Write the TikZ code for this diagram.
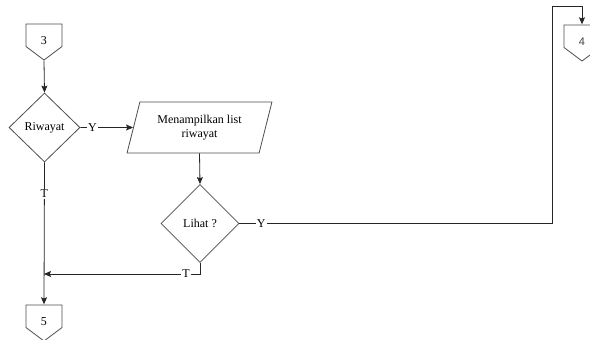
\documentclass[tikz,border=0pt]{standalone}
\usepackage{fontspec}
\setmainfont{Liberation Serif}
\newfontfamily\labelsans{Liberation Sans}
\usetikzlibrary{shapes.geometric}
\usetikzlibrary{arrows.meta}
\tikzstyle{flow_line}=[draw=black!85, line width=0.8pt]
\tikzstyle{flow_arrow}=[flow_line, -{Stealth[length=7pt,width=6pt,inset=1.2pt]}]
\tikzstyle{flow_shape}=[draw=black!70, line width=0.8pt, inner sep=0pt]
\tikzstyle{flow_decision}=[flow_shape, diamond, aspect=1]
\tikzstyle{flow_io}=[flow_shape, trapezium, trapezium left angle=70, trapezium right angle=110,
    trapezium stretches=true, align=center]
\tikzstyle{flow_offpage}=[rectangle, inner sep=0pt, minimum width=37pt, minimum height=37pt,
    text height=8pt, text depth=3pt, offpage_outline]
\tikzstyle{offpage_outline}=[
    {path picture={
        \draw[black!70, line width=0.8pt]
        ([xshift=0.5pt,yshift=-0.5pt]path picture bounding box.north west) --
        ([xshift=-0.5pt,yshift=-0.5pt]path picture bounding box.north east) --
        ([xshift=-0.5pt,yshift=-23pt]path picture bounding box.north east) --
        ([yshift=0.5pt]path picture bounding box.south) --
        ([xshift=0.5pt,yshift=-23pt]path picture bounding box.north west) -- cycle;
      }
    }
]
\tikzstyle{flow_label}=[fill=white, inner sep=1pt]

\begin{document}
\begin{tikzpicture}[x=1pt, y=-1pt, font=\fontsize{12}{14}\selectfont]
          \useasboundingbox (0,0) rectangle (590,340);
          \node[flow_offpage] (con3) at (44,42){3};
          \node[flow_decision, minimum width=71pt, minimum height=69pt] (riwayat) at (44.5,127.5){Riwayat};
          \node[flow_io, minimum width=145pt, minimum height=51pt] (list_riwayat) at (199.5,127.5){Menampilkan list\\riwayat};
          \node[flow_decision, minimum width=78pt, minimum height=78pt] (lihat) at (200,223.5){Lihat ?};
          \node[flow_offpage, font=\labelsans\fontsize{11}{13}\selectfont, text=black!75] (con4) at (582,43){4};
          \node[flow_offpage] (con5) at (44,323){5};
          \coordinate (join) at (44,274);
          \draw[flow_arrow](con3.south) -- (riwayat.north);
          \draw[flow_arrow](riwayat.east) -- node[flow_label, pos=0.23]{Y} (list_riwayat.west);
          \draw[flow_arrow](riwayat.south) -- node[flow_label, pos=0.22]{T} (con5.north);
          \draw[flow_arrow](list_riwayat.south) -- (lihat.north);
          \draw[flow_arrow](lihat.east) -- node[flow_label, pos=0.07]{Y} ++(313,0) |- ([yshift=18pt]con4.north) -- (con4.north);
          \draw[flow_arrow](lihat.south) |- node[flow_label, pos=0.545]{T} (join);
        \end{tikzpicture}
\end{document}
